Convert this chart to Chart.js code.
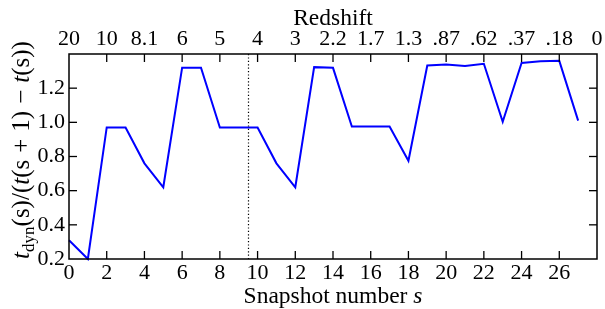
<!DOCTYPE html>
<html><head><meta charset="utf-8">
<script src="https://cdn.jsdelivr.net/npm/chart.js@4/dist/chart.umd.min.js"></script>
<style>html,body{margin:0;padding:0;background:#fff}#w{width:605px;height:309px}</style>
</head><body><div id="w"><canvas id="c" width="605" height="309"></canvas></div>
<script>
const snapshots = [0,1,2,3,4,5,6,7,8,9,10,11,12,13,14,15,16,17,18,19,20,21,22,23,24,25,26,27];
const tdynRatio = [0.31,0.20,0.97,0.97,0.76,0.62,1.32,1.32,0.97,0.97,0.97,0.76,0.62,1.323,1.319,0.976,0.976,0.975,0.775,1.333,1.338,1.330,1.343,1.003,1.348,1.357,1.360,1.010];
const redshiftTickPos = [0,2,4,6,8,10,12,14,16,18,20,22,24,26,28];
const redshiftLabels = ["20","10","8.1","6","5","4","3","2.2","1.7","1.3",".87",".62",".37",".18","0"];
const markerSnapshot = [9.5];

const FONT = "'Liberation Serif', 'DejaVu Serif', serif";
const fs = 22;   // tick labels
const ft = 23.5; // titles
const fy = 25;   // y title

const framePlugin = {
  id: 'frame',
  afterDraw(chart) {
    const ctx = chart.ctx, a = chart.chartArea;
    const sx = chart.scales.x, sy = chart.scales.y;
    ctx.save();
    ctx.strokeStyle = '#000'; ctx.lineWidth = 1.2; ctx.setLineDash([1.2, 2.2]);
    markerSnapshot.forEach(v => {
      const px = Math.round(sx.getPixelForValue(v)) + 0.5;
      ctx.beginPath(); ctx.moveTo(px, a.top); ctx.lineTo(px, a.bottom); ctx.stroke();
    });
    ctx.setLineDash([]);
    ctx.lineWidth = 1.5;
    ctx.strokeRect(a.left, a.top, a.right - a.left, a.bottom - a.top);
    const L = 8;
    ctx.lineWidth = 1.3;
    for (let v = 2; v < 28; v += 2) {
      const px = sx.getPixelForValue(v);
      ctx.beginPath(); ctx.moveTo(px, a.bottom); ctx.lineTo(px, a.bottom - L); ctx.stroke();
    }
    redshiftTickPos.forEach(v => {
      if (v === 0 || v === 28) return;
      const px = chart.scales.x2.getPixelForValue(v);
      ctx.beginPath(); ctx.moveTo(px, a.top); ctx.lineTo(px, a.top + L); ctx.stroke();
    });
    for (let i = 1; i < 6; i++) {
      const v = 0.2 + i * 0.2;
      const py = sy.getPixelForValue(v);
      ctx.beginPath(); ctx.moveTo(a.left, py); ctx.lineTo(a.left + L, py); ctx.stroke();
      ctx.beginPath(); ctx.moveTo(a.right, py); ctx.lineTo(a.right - L, py); ctx.stroke();
    }
    ctx.fillStyle = '#000';
    ctx.textBaseline = 'alphabetic';
    ctx.textAlign = 'left';
    const cx = (a.left + a.right) / 2;
    const nt = ft + "px " + FONT, it = "italic " + ft + "px " + FONT;
    drawRich(ctx, [{t: "Snapshot number ", f: nt}, {t: "s", f: it}], cx, 303);
    drawRich(ctx, [{t: "Redshift", f: nt}], cx, 25);
    ctx.translate(29, 150);
    ctx.rotate(-Math.PI / 2);
    const ny = fy + "px " + FONT, iy = "italic " + fy + "px " + FONT, sub = "17px " + FONT;
    drawRich(ctx, [
      {t: "t", f: iy}, {t: "dyn", f: sub, dy: 5}, {t: "(s)/(", f: ny}, {t: "t", f: iy},
      {t: "(s", f: ny}, {gap: 7}, {t: "+", f: ny}, {gap: 7}, {t: "1)", f: ny}, {gap: 7},
      {t: "\u2212", f: ny}, {gap: 7}, {t: "t", f: iy}, {t: "(s))", f: ny}
    ], 0, 0);
    ctx.restore();
  }
};
function drawRich(ctx, parts, cx, y) {
  let w = 0;
  parts.forEach(p => { if (p.gap) { w += p.gap; return; } ctx.font = p.f; w += ctx.measureText(p.t).width; });
  let x = cx - w / 2;
  parts.forEach(p => {
    if (p.gap) { x += p.gap; return; }
    ctx.font = p.f; ctx.fillText(p.t, x, y + (p.dy || 0)); x += ctx.measureText(p.t).width;
  });
}

new Chart(document.getElementById('c'), {
  type: 'line',
  data: {
    datasets: [{
      data: snapshots.map((s, i) => ({x: s, y: tdynRatio[i]})),
      borderColor: '#0000ff', borderWidth: 2, pointRadius: 0, tension: 0, fill: false,
      clip: 2
    }]
  },
  options: {
    responsive: false, animation: false,
    layout: {padding: 0},
    plugins: {legend: {display: false}, tooltip: {enabled: false}},
    scales: {
      x: {
        type: 'linear', position: 'bottom', min: 0, max: 28,
        afterFit(s) { s.height = 50; },
        afterBuildTicks(s) { s.ticks = snapshots.filter(v => v % 2 === 0).map(v => ({value: v})); },
        grid: {display: false, drawTicks: false}, border: {display: false},
        ticks: {color: '#000', padding: 1, font: {family: FONT, size: fs}, maxRotation: 0, autoSkip: false}
      },
      x2: {
        type: 'linear', position: 'top', min: 0, max: 28,
        afterFit(s) { s.height = 54; },
        afterBuildTicks(s) { s.ticks = redshiftTickPos.map(v => ({value: v})); },
        grid: {display: false, drawTicks: false}, border: {display: false},
        ticks: {color: '#000', padding: 2, font: {family: FONT, size: fs}, maxRotation: 0, autoSkip: false,
          callback: (v) => { const i = redshiftTickPos.indexOf(v); return i >= 0 ? redshiftLabels[i] : ''; }}
      },
      y: {
        type: 'linear', position: 'left', min: 0.2, max: 1.4,
        afterFit(s) { s.width = 69; },
        grid: {display: false, drawTicks: false}, border: {display: false},
        ticks: {color: '#000', padding: 4, stepSize: 0.2, font: {family: FONT, size: fs},
          callback: (v) => (Math.abs(v - 1.4) < 1e-6 ? '' : Number(v).toFixed(1))}
      },
      y2: {
        type: 'linear', position: 'right', min: 0.2, max: 1.4,
        afterFit(s) { s.width = 8; },
        grid: {display: false, drawTicks: false}, border: {display: false},
        ticks: {display: false}
      }
    }
  },
  plugins: [framePlugin]
});
</script></body></html>
